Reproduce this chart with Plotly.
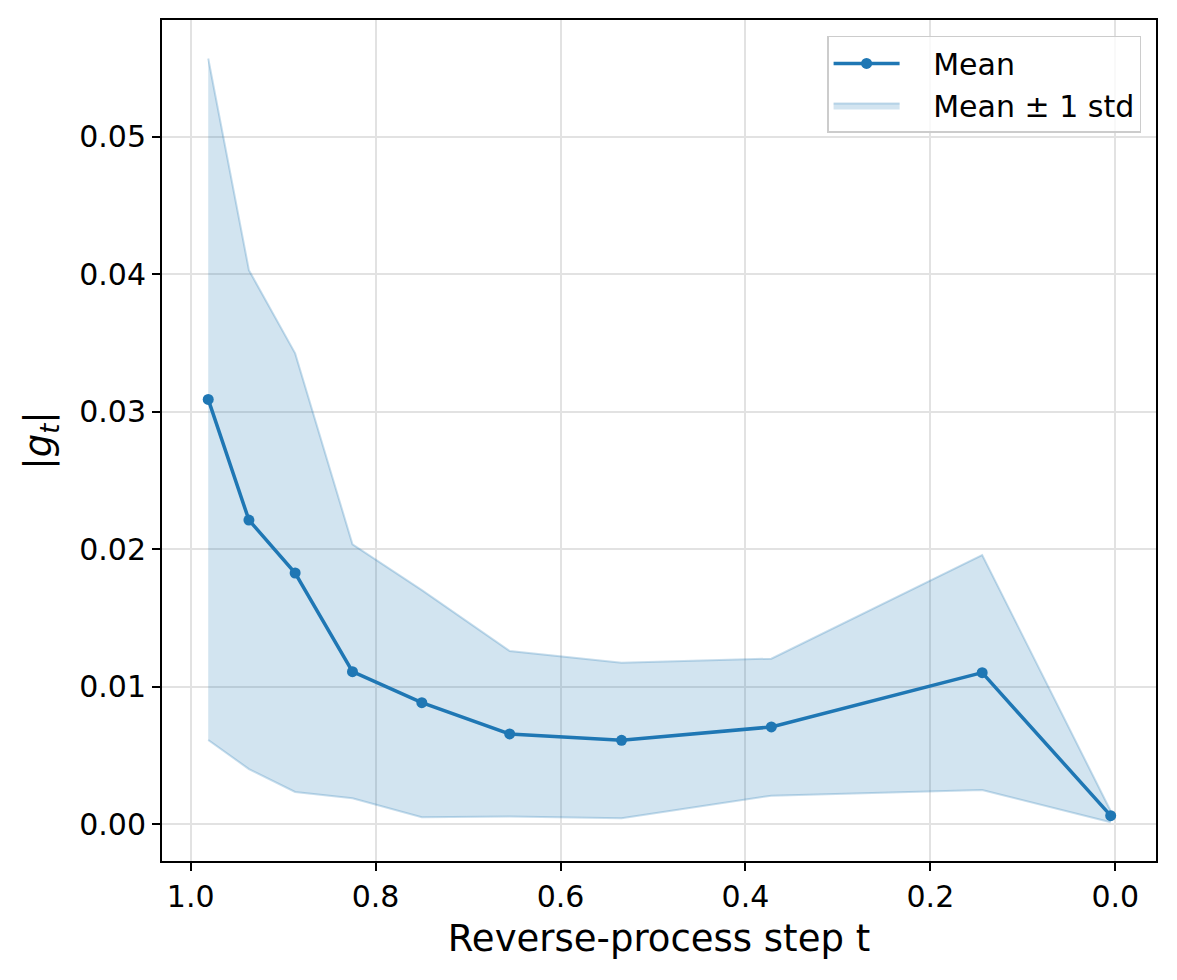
import plotly.graph_objects as go

t_steps = [0.981, 0.937, 0.887, 0.825, 0.750, 0.655, 0.534, 0.372, 0.144, 0.005]
mean_g = [0.0309, 0.02212, 0.01827, 0.01109, 0.00884, 0.00656, 0.0061, 0.00707, 0.01102, 0.00062]
upper_g = [0.0557, 0.0403, 0.03425, 0.02036, 0.01703, 0.0126, 0.01175, 0.01204, 0.01958, 0.00096]
lower_g = [0.00612, 0.00401, 0.00234, 0.00188, 0.0005, 0.00055, 0.00043, 0.00207, 0.00249, 0.00014]

x_ticks = [0.0, 0.2, 0.4, 0.6, 0.8, 1.0]
y_ticks = [0.00, 0.01, 0.02, 0.03, 0.04, 0.05]

blue = "#1f77b4"
band_fill = "rgba(31,119,180,0.2)"
band_edge = "rgba(31,119,180,0.25)"

fig = go.Figure()
fig.add_trace(go.Scatter(x=t_steps, y=upper_g, mode="lines",
                         line=dict(color=band_edge, width=2),
                         showlegend=False, hoverinfo="skip"))
fig.add_trace(go.Scatter(x=t_steps, y=lower_g, mode="lines", fill="tonexty",
                         fillcolor=band_fill, line=dict(color=band_edge, width=2),
                         name="\u00a0\u00a0\u00a0Mean ± 1 std"))
fig.add_trace(go.Scatter(x=t_steps, y=mean_g, mode="lines+markers",
                         line=dict(color=blue, width=3.5),
                         marker=dict(color=blue, size=11),
                         name="\u00a0\u00a0\u00a0Mean"))

axis_common = dict(showline=True, linecolor="black", linewidth=2, mirror=True,
                   ticks="outside", ticklen=8, tickwidth=2, tickcolor="black",
                   showgrid=True, gridcolor="#e2e2e2", gridwidth=1.5, zeroline=False,
                   tickfont=dict(family="DejaVu Sans", size=30, color="black"))

fig.update_xaxes(range=[1.031, -0.044], tickvals=x_ticks, tickformat=".1f",
                 title=dict(text="Reverse-process step t",
                            font=dict(family="DejaVu Sans", size=37, color="black"),
                            standoff=12),
                 **axis_common)
fig.update_yaxes(range=[-0.00268, 0.0585], tickvals=y_ticks, tickformat=".2f",
                 title=dict(text="|<i>g</i><sub><i>t</i></sub>|",
                            font=dict(family="DejaVu Sans", size=37, color="black"),
                            standoff=16),
                 **axis_common)

fig.update_layout(width=1177, height=980,
                  margin=dict(l=162, r=21, t=20, b=119),
                  plot_bgcolor="white", paper_bgcolor="white",
                  font=dict(family="DejaVu Sans", color="black"),
                  legend=dict(x=0.985, y=0.981, xanchor="right", yanchor="top",
                              traceorder="reversed",
                              bgcolor="rgba(255,255,255,0.8)", bordercolor="#cccccc",
                              borderwidth=1.5, font=dict(family="DejaVu Sans", size=30),
                              itemwidth=66))

fig.write_html("out.html")
